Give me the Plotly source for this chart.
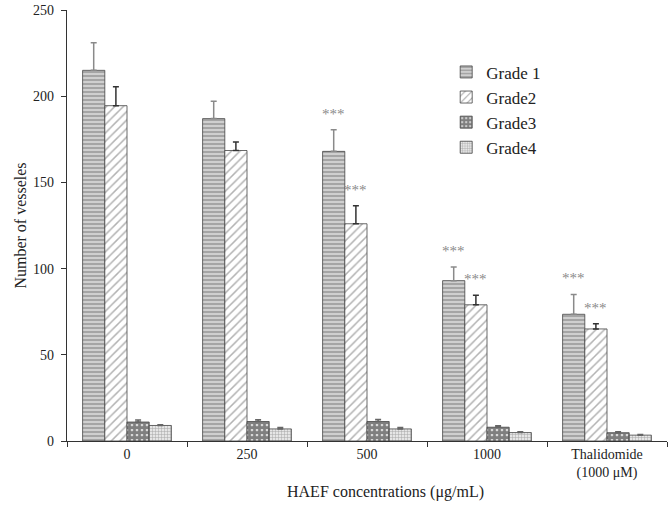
import plotly.graph_objects as go

categories = ["0", "250", "500", "1000", "Thalidomide<br>(1000 μM)"]
series_names = ["Grade 1", "Grade2", "Grade3", "Grade4"]
grade1 = [215, 187, 168, 93, 73.5]
grade2 = [194.5, 168.5, 126, 79, 65]
grade3 = [11, 11.3, 11.3, 8, 4.8]
grade4 = [9, 7, 7, 4.9, 3.4]
err1 = [16, 10, 12.5, 8, 11.5]
err2 = [11, 5, 10.5, 5.6, 3]
err3 = [1.2, 1, 1.2, 0.8, 0.6]
err4 = [0.4, 0.8, 0.8, 0.5, 0.3]
# significance markers: (category, series index)
stars = [("500", 0), ("500", 1), ("1000", 0), ("1000", 1),
         ("Thalidomide<br>(1000 μM)", 0), ("Thalidomide<br>(1000 μM)", 1)]

values = [grade1, grade2, grade3, grade4]
errors = [err1, err2, err3, err4]
patterns = [
    dict(shape="-", fgcolor="#555555", bgcolor="#cfcfcf", size=4, solidity=0.35),
    dict(shape="/", fgcolor="#666666", bgcolor="white", size=6, solidity=0.25),
    dict(shape=".", fgcolor="black", bgcolor="white", size=5, solidity=0.8),
    dict(shape="+", fgcolor="#666666", bgcolor="#e6e6e6", size=3, solidity=0.3),
]
err_colors = ["#8a8a8a", "#333333", "#666666", "#666666"]

fig = go.Figure()
for name, v, e, p, ec in zip(series_names, values, errors, patterns, err_colors):
    fig.add_trace(go.Bar(
        x=categories, y=v, name=name,
        marker=dict(color=p["bgcolor"], pattern=p,
                    line=dict(color="#444444", width=0.8)),
        error_y=dict(type="data", symmetric=False, array=e,
                     arrayminus=[0] * len(e), color=ec, thickness=1.5, width=3),
    ))

cat_px = 600 / len(categories)
bar_px = cat_px * 0.74 / 4
for cat, si in stars:
    idx = categories.index(cat)
    top = values[si][idx] + errors[si][idx]
    fig.add_annotation(x=idx, y=top, text="***", showarrow=False,
                       xshift=(si - 1.5) * bar_px, yshift=6, yanchor="bottom",
                       font=dict(family="Liberation Serif", size=15, color="#8a8a8a"))

fig.add_annotation(x=0.53, y=-0.092, xref="paper", yref="paper", yanchor="top",
                   text="HAEF concentrations (μg/mL)", showarrow=False,
                   font=dict(family="Liberation Serif", size=16, color="#222"))

fig.update_layout(
    width=672, height=505,
    margin=dict(l=67, r=5, t=10, b=64),
    plot_bgcolor="white", paper_bgcolor="white",
    barmode="group", bargap=0.26, bargroupgap=0,
    font=dict(family="Liberation Serif", size=14, color="#222"),
    legend=dict(x=0.632, y=0.897, xanchor="left", yanchor="top",
                font=dict(size=17), tracegroupgap=2, itemwidth=30,
                bgcolor="rgba(0,0,0,0)"),
    showlegend=True,
)
fig.update_xaxes(type="category", range=[-0.5, len(categories) - 0.5],
                 showline=True, linecolor="#333", linewidth=1.2,
                 ticks="outside", tickson="boundaries", ticklen=5,
                 tickcolor="#333", showgrid=False, tickangle=0,
                 ticklabelstandoff=0, automargin=False)
fig.update_yaxes(range=[0, 250], dtick=50, showline=True, linecolor="#333",
                 linewidth=1.2, ticks="outside", ticklen=5, tickcolor="#333",
                 showgrid=False, zeroline=False, ticklabelstandoff=4,
                 automargin=False,
                 title=dict(text="Number of vesseles", font=dict(size=16), standoff=2))

fig.write_html("out.html", config={"displayModeBar": False},
               post_script="document.body.style.margin='0';document.body.style.padding='0';")
